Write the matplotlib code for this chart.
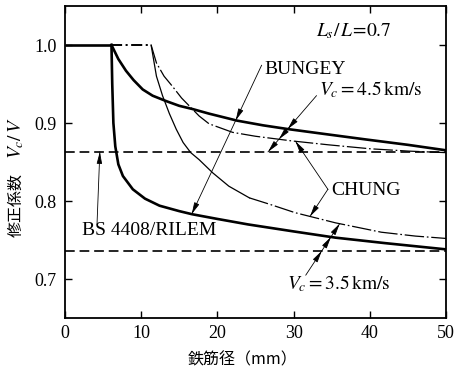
import numpy as np
import matplotlib
matplotlib.use('Agg')
import matplotlib.pyplot as plt

plt.rcParams['font.family'] = ['Liberation Serif', 'Noto Sans CJK JP']
plt.rcParams['mathtext.fontset'] = 'stix'
plt.rcParams['lines.scale_dashes'] = False

# ---------------- data ----------------
bs_levels = [0.863, 0.736]            # BS 4408/RILEM (4.5, 3.5 km/s)

plateau_x = [0, 6.1]                  # common plateau, value 1.0
chung_plateau_x = [6.1, 11.3]

bungey45_x = [6.1, 7, 8, 9, 10.2, 11.5, 13.3, 15, 16.7, 18.9, 22.6, 26, 29.4, 34, 39.4, 45, 50]
bungey45_y = [1.0, 0.982, 0.967, 0.955, 0.943, 0.935, 0.928, 0.922, 0.918, 0.912, 0.903, 0.897,
              0.892, 0.886, 0.879, 0.872, 0.865]

bungey35_x = [6.1, 6.2, 6.35, 6.6, 7.0, 7.6, 8.9, 10.5, 12.4, 15, 16.7, 20, 24, 30, 35.5, 42, 50]
bungey35_y = [1.0, 0.95, 0.90, 0.87, 0.847, 0.832, 0.815, 0.803, 0.794, 0.787, 0.783, 0.777,
              0.770, 0.761, 0.753, 0.746, 0.738]

chung45_x = [11.3, 12, 13, 14.1, 15.3, 16.7, 17.6, 18.9, 22, 25, 29.8, 34.6, 40, 45, 50]
chung45_y = [1.0, 0.977, 0.960, 0.947, 0.932, 0.918, 0.909, 0.899, 0.888, 0.883, 0.877, 0.872,
             0.867, 0.864, 0.862]

chung35_x = [11.3, 12, 12.8, 13.7, 14.6, 15.5, 16.5, 17.6, 19.4, 21.5, 24.2, 26.8, 30.2, 35.5,
             41.5, 46, 50]
chung35_y = [1.0, 0.96, 0.935, 0.912, 0.892, 0.875, 0.862, 0.853, 0.836, 0.819, 0.804, 0.796,
             0.785, 0.772, 0.760, 0.755, 0.752]

x_ticks = [0, 10, 20, 30, 40, 50]
y_ticks = [0.7, 0.8, 0.9, 1.0]
x_ticklabels = ['0', '10', '20', '30', '40', '50']
y_ticklabels = ['0.7', '0.8', '0.9', '1.0']

# ---------------- figure ----------------
fig = plt.figure(figsize=(4.56, 3.70), dpi=100)
ax = fig.add_axes([65 / 456, 1 - 318 / 370, 381 / 456, 312 / 370])
ax.set_xlim(0, 50)
ax.set_ylim(0.65, 1.05)

k = 'black'
# BS 4408 / RILEM dashed levels
for lv in bs_levels:
    ax.plot([0, 50], [lv, lv], color=k, lw=1.2, dashes=(7, 3.5))

# plateau
ax.plot(plateau_x, [1.0, 1.0], color=k, lw=1.9, solid_capstyle='butt')
ax.plot(chung_plateau_x, [1.0, 1.0], color=k, lw=1.4, dashes=(8, 2.5, 1.5, 2.5))

# Bungey (thick)
ax.plot(bungey45_x, bungey45_y, color=k, lw=1.9)
ax.plot(bungey35_x, bungey35_y, color=k, lw=1.9)

# Chung (thin, partly dash-dot)
ax.plot(chung45_x, chung45_y, color=k, lw=0.9, dashes=(14, 2, 1.2, 2))
c35x = np.array(chung35_x)
c35y = np.array(chung35_y)
m = c35x <= 24.2
ax.plot(c35x[m], c35y[m], color=k, lw=0.9)
ax.plot(c35x[c35x >= 24.2], c35y[c35x >= 24.2], color=k, lw=0.9, dashes=(14, 2, 1.2, 2))

# ---------------- leader lines ----------------
flat_hi = ([0, 50], [bs_levels[0]] * 2)
flat_lo = ([0, 50], [bs_levels[1]] * 2)
B45 = (bungey45_x, bungey45_y)
B35 = (bungey35_x, bungey35_y)
C45 = (chung45_x, chung45_y)
C35 = (chung35_x, chung35_y)


def crossing(p0, p1, curve):
    cx, cy = curve
    t = np.linspace(0, 1, 4001)
    lx = p0[0] + (p1[0] - p0[0]) * t
    ly = p0[1] + (p1[1] - p0[1]) * t
    d = ly - np.interp(lx, cx, cy)
    idx = np.where(np.diff(np.sign(d)) != 0)[0]
    i = idx[0]
    tt = t[i] - d[i] * (t[i + 1] - t[i]) / (d[i + 1] - d[i])
    return (p0[0] + (p1[0] - p0[0]) * tt, p0[1] + (p1[1] - p0[1]) * tt)


def arrowhead(p, frm):
    d = ax.transData.transform(p) - ax.transData.transform(frm)
    d = d / np.hypot(*d)
    ax.annotate('', xy=p, xytext=(-d[0] * 8, -d[1] * 8), textcoords='offset pixels',
                arrowprops=dict(arrowstyle='-|>,head_length=0.7,head_width=0.16',
                                lw=0.6, color=k, shrinkA=0, shrinkB=0))


def leader(p0, p1, marks, end_curve):
    end = crossing(p0, p1, end_curve)
    ax.plot([p0[0], end[0]], [p0[1], end[1]], color=k, lw=0.6)
    for c in marks:
        arrowhead(crossing(p0, p1, c), p0)
    arrowhead(end, p0)


leader((25.8, 0.974), (15.3, 0.7555), [B45], B35)          # BUNGEY
leader((33.0, 0.935), (25.5, 0.850), [B45, C45], flat_hi)  # Vc = 4.5
leader((34.5, 0.815), (29.8, 0.883), [], C45)              # CHUNG upper
leader((34.5, 0.815), (31.8, 0.775), [], C35)              # CHUNG lower
leader((4.2, 0.770), (4.62, 0.875), [], flat_hi)           # BS 4408/RILEM
leader((31.6, 0.705), (37.0, 0.785), [flat_lo, B35], C35)  # Vc = 3.5

# ---------------- texts ----------------
fs = 14
ax.text(37.9, 1.018, r'$L_s/\,L\!=\!0.7$', fontsize=fs, ha='center', va='center')
ax.text(31.5, 0.968, 'BUNGEY', fontsize=fs, ha='center', va='center')
ax.text(40.1, 0.943, r'$V_c=4.5\,\mathrm{km/s}$', fontsize=fs, ha='center', va='center')
ax.text(34.9, 0.814, 'CHUNG', fontsize=fs, ha='left', va='center')
ax.text(2.2, 0.762, 'BS 4408/RILEM', fontsize=fs, ha='left', va='center')
ax.text(35.9, 0.694, r'$V_c=3.5\,\mathrm{km/s}$', fontsize=fs, ha='center', va='center')

# ---------------- axes styling ----------------
ax.set_xticks(x_ticks)
ax.set_xticklabels(x_ticklabels)
ax.set_yticks(y_ticks)
ax.set_yticklabels(y_ticklabels)
ax.tick_params(direction='in', length=5, width=1.0, labelsize=13, top=True, right=True,
               color=k, labelcolor=k)
ax.tick_params(axis='x', pad=5)
ax.tick_params(axis='y', pad=6)
for s in ax.spines.values():
    s.set_linewidth(1.3)

fig.text(16 / 456, 1 - 205 / 370, '修正係数', rotation=90, ha='center', va='center',
         fontsize=11.5, family=['Noto Sans CJK JP'])
fig.text(16 / 456, 1 - 138 / 370, r'$V_c/\,V$', rotation=90, ha='center', va='center',
         fontsize=14)
fig.text(243 / 456, 1 - 360 / 370, '鉄筋径（mm）', ha='center', va='center',
         fontsize=11.5, family=['Noto Sans CJK JP'])

fig.savefig('out.png', dpi=100)
